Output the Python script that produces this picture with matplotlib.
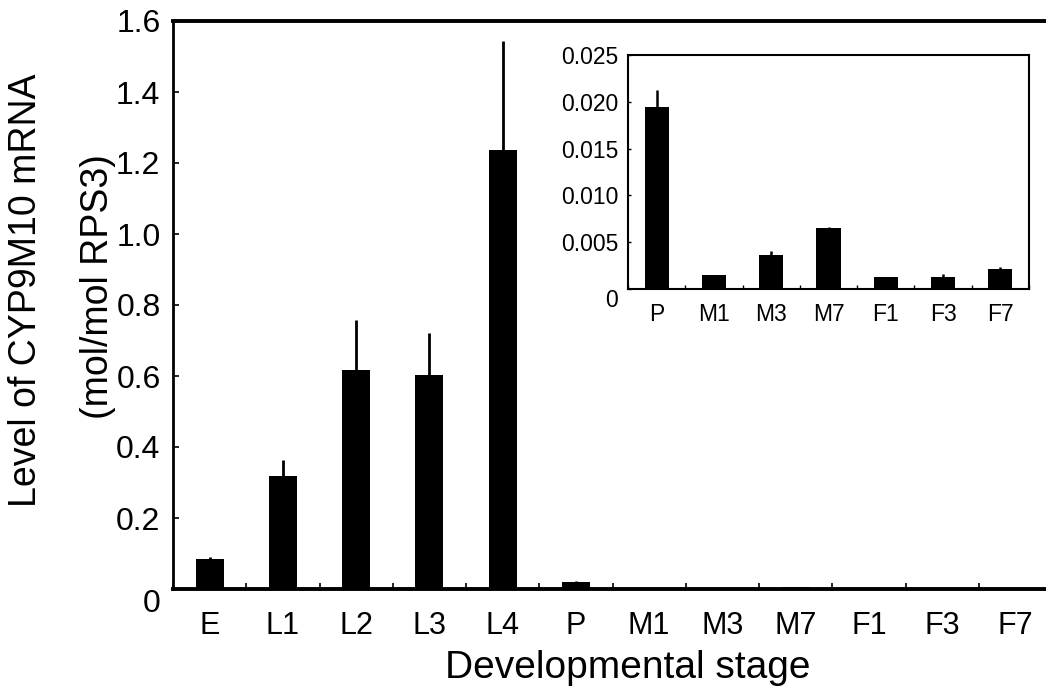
import matplotlib
matplotlib.use('Agg')
import matplotlib.pyplot as plt
from matplotlib.ticker import FixedLocator
import numpy as np

plt.rcParams['font.family'] = ['Liberation Sans', 'DejaVu Sans']

# data
stages = ['E', 'L1', 'L2', 'L3', 'L4', 'P', 'M1', 'M3', 'M7', 'F1', 'F3', 'F7']
level = [0.084, 0.318, 0.617, 0.603, 1.237, 0.0194, 0.00145, 0.0036, 0.0065, 0.0013, 0.0013, 0.0021]
level_err = [0.007, 0.045, 0.141, 0.118, 0.308, 0.0019, 0.0, 0.0005, 0.0001, 0.0, 0.0003, 0.0002]

main_yticks = [0, 0.2, 0.4, 0.6, 0.8, 1.0, 1.2, 1.4, 1.6]
main_ylabels = ['0', '0.2', '0.4', '0.6', '0.8', '1.0', '1.2', '1.4', '1.6']
inset_yticks = [0, 0.005, 0.010, 0.015, 0.020, 0.025]
inset_ylabels = ['0', '0.005', '0.010', '0.015', '0.020', '0.025']
inset_start = 5  # inset shows P onward

W, H = 1046, 692
fig = plt.figure(figsize=(W/100, H/100), dpi=100)

#main axes
ax = fig.add_axes([173/W, 1-589/H, (1052-173)/W, (589-21)/H])
x = np.arange(len(stages))
ax.bar(x, level, width=0.38, color='black')
ax.errorbar(x, level, yerr=[np.zeros(len(level)), level_err], fmt='none',
            ecolor='black', elinewidth=2, capsize=0)
ax.set_xlim(-0.5, len(stages)-0.5)
ax.set_ylim(0, 1.6)
ax.set_xticks(x)
ax.set_xticklabels(stages)
ax.xaxis.set_minor_locator(FixedLocator(np.arange(len(stages)+1)-0.5))
ax.set_yticks(main_yticks)
ax.set_yticklabels(main_ylabels)
ax.tick_params(axis='x', which='major', length=0, pad=16, labelsize=22)
ax.tick_params(axis='x', which='minor', direction='in', length=4, width=1.2)
ax.tick_params(axis='y', direction='in', length=4, width=1.2, pad=9, labelsize=23)
ax.get_yticklabels()[0].set_verticalalignment('top')
ax.spines['left'].set_linewidth(2)
for s in ['top', 'bottom']:
    ax.spines[s].set_linewidth(2.8)
ax.spines['right'].set_visible(False)

fig.text(628/W, 1-668/H, 'Developmental stage', fontsize=28, ha='center', va='center')
fig.text(26/W, 1-290/H, 'Level of CYP9M10 mRNA', fontsize=27, rotation=90,
         ha='center', va='center')
fig.text(98/W, 1-287/H, '(mol/mol RPS3)', fontsize=27, rotation=90,
         ha='center', va='center')

#inset
axi = fig.add_axes([628/W, 1-289/H, (1029-628)/W, (289-55)/H])
xi = np.arange(len(stages) - inset_start)
axi.bar(xi, level[inset_start:], width=0.42, color='black')
axi.errorbar(xi, level[inset_start:],
             yerr=[np.zeros(len(xi)), level_err[inset_start:]], fmt='none',
             ecolor='black', elinewidth=1.8, capsize=0)
axi.set_xlim(-0.5, len(xi)-0.5)
axi.set_ylim(0, 0.025)
axi.set_xticks(xi)
axi.set_xticklabels(stages[inset_start:])
axi.xaxis.set_minor_locator(FixedLocator(np.arange(len(xi)+1)-0.5))
axi.set_yticks(inset_yticks)
axi.set_yticklabels(inset_ylabels)
axi.tick_params(axis='x', which='major', length=0, pad=10, labelsize=16.5)
axi.tick_params(axis='x', which='minor', direction='in', length=3, width=1)
axi.tick_params(axis='y', direction='in', length=2, width=1, pad=7, labelsize=16.5)
axi.get_yticklabels()[0].set_verticalalignment('top')
for s in axi.spines.values():
    s.set_linewidth(1.5)

fig.savefig('out.png', dpi=100)
